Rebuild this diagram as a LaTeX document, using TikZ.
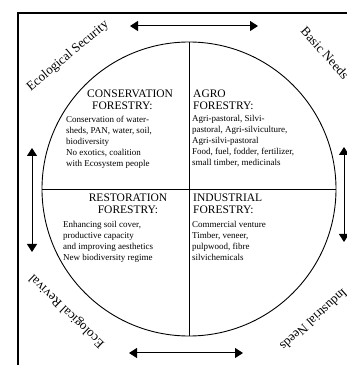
\documentclass[tikz,border=0pt]{standalone}
\usepackage{fontspec}
\setmainfont{Liberation Serif}
\usetikzlibrary{arrows.meta}

\tikzstyle{heading} = [font=\fontsize{11.5}{12}\selectfont, inner sep=0pt]
\tikzstyle{body} = [font=\fontsize{9}{11}\selectfont, inner sep=0pt, align=left]
\tikzstyle{corner} = [font=\fontsize{13}{15}\selectfont, inner sep=0pt]
\tikzstyle{twoway} = [{Triangle[length=8pt,width=10pt]}-{Triangle[length=8pt,width=10pt]}, line width=1pt]

\begin{document}
\begin{tikzpicture}[x=1pt,y=1pt]
	\useasboundingbox (0,0) rectangle (347,365);
	% frame
	\draw[line width=1.2pt] (347,352) -- (18,352) -- (18,0);
	% the disc and its quadrants
	\node[circle, draw, line width=0.9pt, minimum size=294pt, inner sep=0pt] (disc) at (189,176) {};
	\draw[line width=0.8pt] (disc.north) -- (disc.south);
	\draw[line width=0.8pt] (disc.west) -- (disc.east);
	% quadrant texts
	\node[heading, anchor=north west, align=left] (conshead) at (87,275)
		{CONSERVATION\\\hspace*{5pt}FORESTRY:};
	\node[body, anchor=north west] (consbody) at (66,249.5)
		{Conservation of water-\\sheds, PAN, water, soil,\\biodiversity\\No exotics, coalition\\with Ecosystem people};
	\node[heading, anchor=north west, align=left] (agrohead) at (193,275)
		{AGRO\\FORESTRY:};
	\node[body, anchor=north west] (agrobody) at (192,249.5)
		{Agri-pastoral, Silvi-\\pastoral, Agri-silviculture,\\Agri-silvi-pastoral\\Food, fuel, fodder, fertilizer,\\small timber, medicinals};
	\node[heading, anchor=north, align=center] (resthead) at (128,171)
		{RESTORATION\\FORESTRY:};
	\node[body, anchor=north west] (restbody) at (63,143.5)
		{Enhancing soil cover,\\productive capacity\\and improving aesthetics\\New biodiversity regime};
	\node[heading, anchor=north west, align=left] (indhead) at (193,171)
		{INDUSTRIAL\\FORESTRY:};
	\node[body, anchor=north west] (indbody) at (192,143.5)
		{Commercial venture\\Timber, veneer,\\pulpwood, fibre\\silvichemicals};
	% corner labels
	\node[corner, rotate=40] (security) at (68,309) {Ecological Security};
	\node[corner, rotate=-48] (basic) at (325,312) {Basic Needs};
	\node[corner, rotate=136] (revival) at (67,54) {Ecological Revival};
	\node[corner, rotate=-138] (industrial) at (314,45) {Industrial Needs};
	% two-way arrows
	\coordinate (topL) at (130,339);
	\coordinate (topR) at (258,339);
	\coordinate (botL) at (129,12);
	\coordinate (botR) at (243,12);
	\coordinate (leftT) at (32,217);
	\coordinate (leftB) at (32,113);
	\coordinate (rightT) at (344,218);
	\coordinate (rightB) at (344,123);
	\draw[twoway] (topL) -- (topR);
	\draw[twoway] (botL) -- (botR);
	\draw[twoway] (leftT) -- (leftB);
	\draw[twoway] (rightT) -- (rightB);
\end{tikzpicture}
\end{document}
